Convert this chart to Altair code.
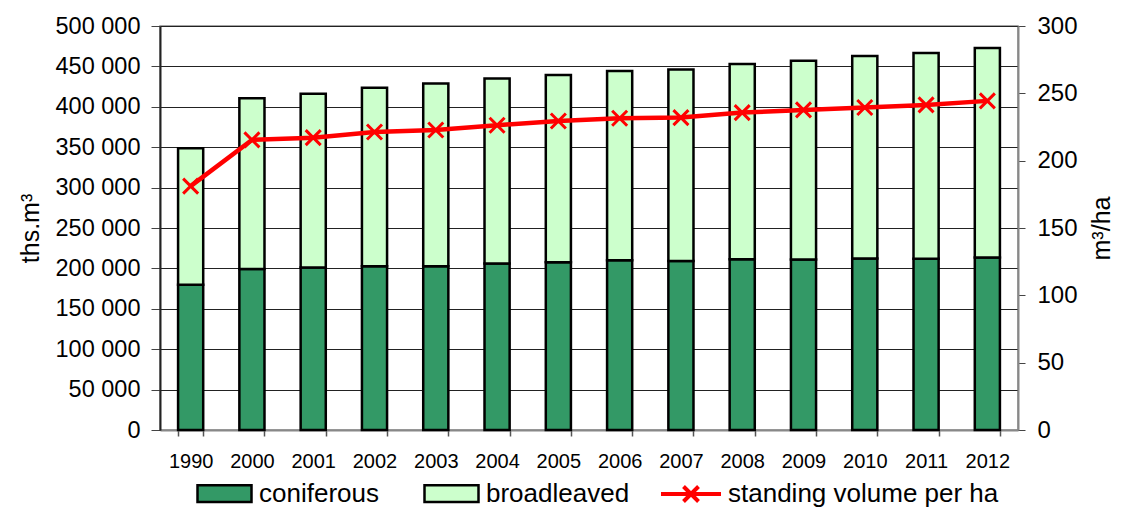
import altair as alt
import pandas as pd

years = ["1990", "2000", "2001", "2002", "2003", "2004", "2005", "2006",
         "2007", "2008", "2009", "2010", "2011", "2012"]
coniferous = [179700, 199400, 201000, 202600, 202800, 206000, 207600, 210000,
              209300, 211300, 211000, 212200, 212000, 213400]
total = [348600, 410700, 416000, 423500, 428800, 435000, 439500, 444200,
         446300, 452900, 457000, 462800, 466500, 472700]
broadleaved = [t - c for t, c in zip(total, coniferous)]
per_ha = [181.1, 215.4, 217.1, 221.3, 222.8, 226.3, 229.5, 231.5,
          232.0, 235.7, 237.7, 239.5, 241.4, 244.4]

series = ["coniferous", "broadleaved"]
series_colors = ["#339966", "#CCFFCC"]
line_label = "standing volume per ha"
line_color = "#FF0000"
left_ticks = [0, 50000, 100000, 150000, 200000, 250000, 300000, 350000, 400000, 450000, 500000]
right_ticks = [0, 50, 100, 150, 200, 250, 300]

FONT = "Liberation Sans"

rows = []
for y, c, b in zip(years, coniferous, broadleaved):
    rows.append({"year": y, "series": "coniferous", "value": c, "ord": 0})
    rows.append({"year": y, "series": "broadleaved", "value": b, "ord": 1})
bars_df = pd.DataFrame(rows)
line_df = pd.DataFrame({"year": years, "perha": per_ha, "label": [line_label] * len(years)})

x_enc = alt.X(
    "year:N", sort=years, title=None,
    scale=alt.Scale(paddingInner=0.59, paddingOuter=0.295),
    axis=alt.Axis(labelAngle=0, tickBand="extent", labelFontSize=20, labelFont=FONT,
                  labelColor="black", tickSize=6, labelPadding=15,
                  domainColor="#888888", domainWidth=2, tickColor="#555555", tickWidth=1.5,
                  grid=False),
)

bars = alt.Chart(bars_df).mark_bar(stroke="black", strokeWidth=2.5, opacity=1).encode(
    x=x_enc,
    y=alt.Y("value:Q", stack="zero",
            scale=alt.Scale(domain=[0, 500000], nice=False),
            axis=alt.Axis(orient="left", values=left_ticks,
                          labelExpr="replace(format(datum.value, ','), ',', ' ')",
                          labelFontSize=23.5, labelFont=FONT, labelColor="black",
                          tickSize=9, labelPadding=11, tickColor="#444444",
                          domainColor="#222222", domainWidth=2,
                          grid=True, gridColor="#222222", gridWidth=1.2,
                          title="ths.m³", titleFontSize=25, titleFont=FONT,
                          titleFontWeight="normal", titleColor="black", titlePadding=12)),
    color=alt.Color("series:N", scale=alt.Scale(domain=series, range=series_colors),
                    legend=alt.Legend(title=None, orient="none", direction="horizontal",
                                      legendX=36, legendY=439, padding=0,
                                      symbolType="M-1,-0.31H1V0.31H-1Z", symbolSize=2916,
                                      symbolStrokeColor="black", symbolStrokeWidth=2.5,
                                      symbolOpacity=1, labelLimit=400,
                                      labelFontSize=26, labelFont=FONT, labelColor="black",
                                      labelOffset=6, columnPadding=40)),
    order=alt.Order("ord:Q"),
)

line = alt.Chart(line_df).mark_line(
    strokeWidth=4.5,
    point=alt.OverlayMarkDef(shape="M-1,-1L1,1M-1,1L1,-1", size=225, filled=False,
                             strokeWidth=3, color=line_color, opacity=1),
).encode(
    x=x_enc,
    y=alt.Y("perha:Q", scale=alt.Scale(domain=[0, 300], nice=False),
            axis=alt.Axis(orient="right", values=right_ticks,
                          labelFontSize=24, labelFont=FONT, labelColor="black",
                          tickSize=7, labelPadding=12, tickColor="#444444",
                          domainColor="#888888", domainWidth=2, grid=False,
                          title="m³/ha", titleFontSize=25, titleFont=FONT,
                          titleFontWeight="normal", titleColor="black",
                          titleAngle=270, titlePadding=37)),
    stroke=alt.Stroke("label:N", scale=alt.Scale(domain=[line_label], range=[line_color]),
                      legend=alt.Legend(title=None, orient="none", legendX=499, legendY=436,
                                        padding=0, labelLimit=400,
                                        symbolType="M-1,0H1M-0.25,-0.25L0.25,0.25M-0.25,0.25L0.25,-0.25",
                                        symbolSize=3600, symbolStrokeWidth=4,
                                        symbolFillColor="transparent",
                                        labelFontSize=26, labelFont=FONT, labelColor="black",
                                        labelOffset=5)),
)

chart = alt.layer(bars, line).resolve_scale(y="independent", color="independent").properties(
    width=858, height=404,
    autosize=alt.AutoSizeParams(type="none"),
    padding={"left": 152, "top": 18, "right": 96, "bottom": 78},
).configure_view(stroke="#888888", strokeWidth=1.5)

chart.save("out.html", embed_options={"renderer": "svg", "actions": False})
